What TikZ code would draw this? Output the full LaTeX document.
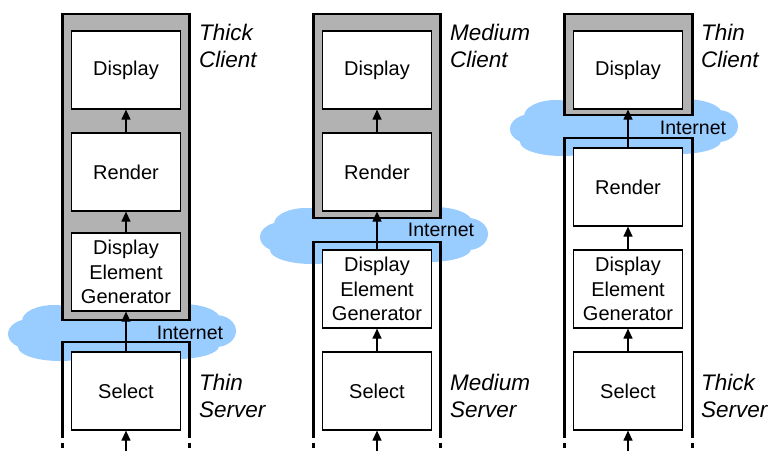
\documentclass[tikz,border=0pt]{standalone}
\usepackage{fontspec}
\setmainfont{Liberation Sans}
\usetikzlibrary{arrows.meta}
\definecolor{tiergray}{HTML}{B2B2B2}
\definecolor{netblue}{HTML}{99CCFF}
\tikzset{
  stage/.style={draw, line width=1.2pt, fill=white, minimum width=109, minimum height=78,
    inner sep=0, align=center, font=\fontsize{20}{24.5}\selectfont},
  tier/.style={line width=2.6pt},
  flow/.style={line width=1.2pt, -{Triangle[width=9pt,length=10pt]}},
  net/.pic={
    \fill[netblue] (0,0) ellipse[x radius=98,y radius=24]
      (-92,2) ellipse[x radius=22,y radius=15]
      (-68,-11) ellipse[x radius=32,y radius=16]
      (-10,-14) ellipse[x radius=45,y radius=14]
      (60,-13) ellipse[x radius=38,y radius=15]
      (94,-1) ellipse[x radius=20,y radius=16]
      (-62,15) ellipse[x radius=42,y radius=14]
      (55,14) ellipse[x radius=42,y radius=13];
  },
  nettext/.style={font=\fontsize{19.5}{22}\selectfont},
  role/.style={anchor=north west, inner sep=0, align=left,
    font=\fontsize{22.5}{27}\selectfont\itshape},
}
\begin{document}
\begin{tikzpicture}[x=1pt,y=-1pt]
\useasboundingbox (0,0) rectangle (773,451);

% the internet between client and server
\pic (net1) at (122,332) {net};
\pic (net2) at (374,235) {net};
\pic (net3) at (624,127) {net};

% client side
\filldraw[tier, fill=tiergray] (62.5,14) rectangle (189.5,320);
\filldraw[tier, fill=tiergray] (313.5,14) rectangle (440.5,218);
\filldraw[tier, fill=tiergray] (564.5,14) rectangle (692.5,115);

% server side, open at the bottom
\draw[tier] (62.5,438) -- (62.5,342) -- (189.5,342) -- (189.5,438);
\draw[tier] (313.5,438) -- (313.5,242) -- (440.5,242) -- (440.5,438);
\draw[tier] (564.5,438) -- (564.5,138) -- (692.5,138) -- (692.5,438);
\foreach \x in {62.5,189.5,313.5,440.5,564.5,692.5}
  \draw[tier] (\x,443) -- (\x,448);

% thick client
\node[stage] (disp1) at (126,70) {Display};
\node[stage] (rend1) at (126,172) {Render};
\node[stage] (gen1) at (126,272) {Display\\Element\\Generator};
\node[stage] (sel1) at (126,391) {Select};
\coordinate (in1) at (126,451);

% medium client
\node[stage] (disp2) at (377,70) {Display};
\node[stage] (rend2) at (377,172) {Render};
\node[stage] (gen2) at (377,289) {Display\\Element\\Generator};
\node[stage] (sel2) at (377,391) {Select};
\coordinate (in2) at (377,451);

% thin client
\node[stage] (disp3) at (628,70) {Display};
\node[stage] (rend3) at (628,187) {Render};
\node[stage] (gen3) at (628,289) {Display\\Element\\Generator};
\node[stage] (sel3) at (628,391) {Select};
\coordinate (in3) at (628,451);

\foreach \i in {1,2,3} {
  \draw[flow] (in\i) -- (sel\i.south);
  \draw[flow] (sel\i.north) -- (gen\i.south);
  \draw[flow] (gen\i.north) -- (rend\i.south);
  \draw[flow] (rend\i.north) -- (disp\i.south);
}

\node[nettext] (lbl1) at (190,333) {Internet};
\node[nettext] (lbl2) at (441,230) {Internet};
\node[nettext] (lbl3) at (693,128) {Internet};

\node[role] (cli1) at (199,23.5) {Thick\\Client};
\node[role] (cli2) at (450,23.5) {Medium\\Client};
\node[role] (cli3) at (701,23.5) {Thin\\Client};
\node[role] (srv1) at (199,373.5) {Thin\\Server};
\node[role] (srv2) at (450,373.5) {Medium\\Server};
\node[role] (srv3) at (701,373.5) {Thick\\Server};
\end{tikzpicture}
\end{document}
